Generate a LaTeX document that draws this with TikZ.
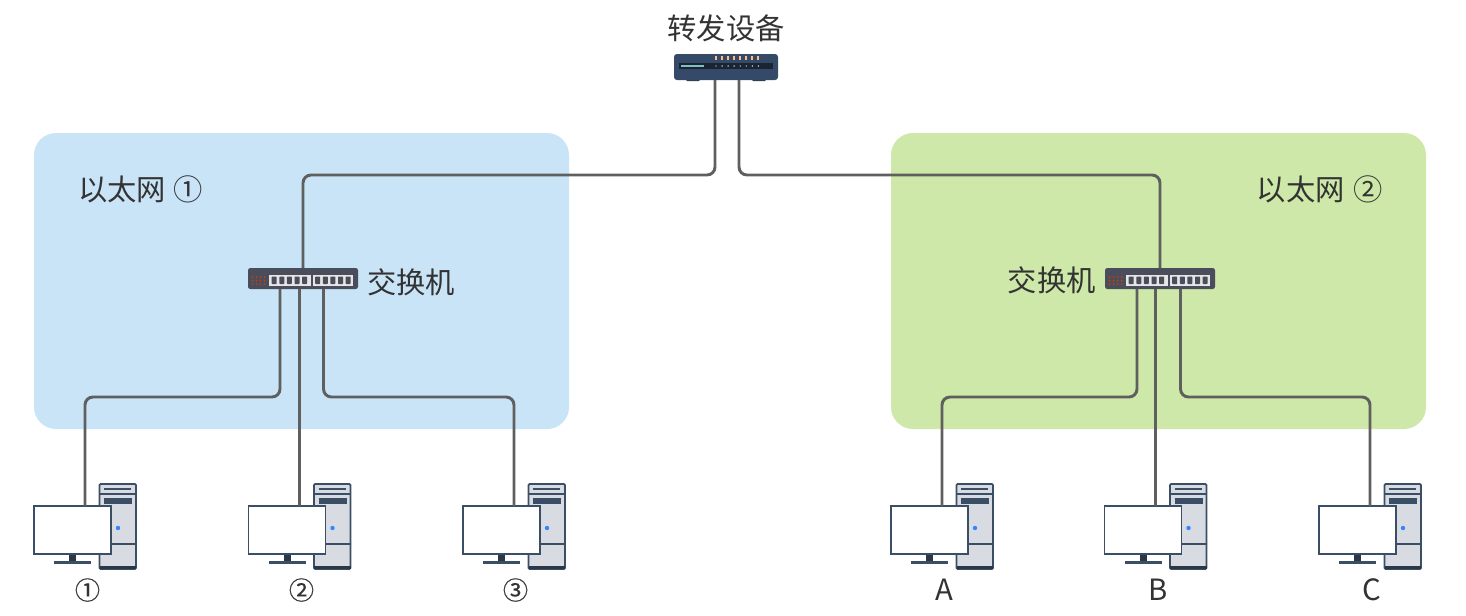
\documentclass[tikz,border=0pt]{standalone}
\usepackage{fontspec}
\setmainfont{Noto Sans CJK SC}
\newfontfamily\ringfont[FakeBold=0.5]{Noto Sans CJK SC}
\usepackage{xcolor}
\definecolor{lanblue}{HTML}{C9E3F7}
\definecolor{langreen}{HTML}{CDE8A8}
\definecolor{wiregray}{HTML}{5F5F5F}
\definecolor{navy}{HTML}{3A4F66}
\definecolor{slab}{HTML}{4A4D5C}
\definecolor{routerblue}{HTML}{344A68}
\definecolor{towergray}{HTML}{D8DCE2}
\begin{document}
\begin{tikzpicture}[x=0.03cm,y=-0.03cm,
  lan/.style={line width=0pt,rounded corners=0.66cm},
  wire/.style={draw=wiregray,line width=2.5pt,rounded corners=0.24cm},
  lbl/.style={font=\fontsize{25}{28}\selectfont,text=black!80,inner sep=0pt},
  ring/.style={font=\fontsize{21.5}{24}\ringfont,text=black!80,inner sep=0pt},
  computer/.pic={
    \filldraw[draw=navy,fill=towergray,line width=1.5pt,rounded corners=1pt] (65.5,-22) rectangle (102,63);
    \fill[navy!70!black] (65.5,60) rectangle (102,63);
    \draw[navy,line width=1pt] (65.5,-12) -- (102,-12) (65.5,38) -- (102,38);
    \draw[navy,line width=1.5pt] (70,-17) -- (97,-17);
    \fill[navy] (70,-8) rectangle (98,-2);
    \fill[blue!60!cyan!80!white] (84,22) circle (2.2);
    \fill[navy!70!black] (35,48) rectangle (42,55);
    \fill[navy] (20,55) rectangle (57,58);
    \filldraw[draw=navy,fill=white,line width=1.5pt] (0,0) rectangle (77,48);
    \coordinate (-port) at (51,0);
  },
  switchbox/.pic={
    \fill[slab,rounded corners=2pt] (0,0) rectangle (110,21);
    \fill[white!90!black] (21,7) rectangle (63,18);
    \fill[white!90!black] (65,7) rectangle (105,18);
    \foreach \i in {0,...,4} {
      \fill[slab,rounded corners=.6pt] ({23.7+7.6*\i},8.5) rectangle ++(5,7.5);
      \fill[slab,rounded corners=.6pt] ({67.2+7.6*\i},8.5) rectangle ++(5,7.5);
    }
    \foreach \i in {0,...,3} \foreach \j in {0,1,2}
      \fill[orange!60!red!80!black] ({4.5+4*\i},{9+3.5*\j}) circle (1);
    \coordinate (-up) at (55,0);
    \coordinate (-pa) at (32,21);
    \coordinate (-pb) at (51,21);
    \coordinate (-pc) at (75.5,21);
  },
  routerbox/.pic={
    \foreach \x in {12,78} \fill[navy!80!black,rounded corners=1pt] (\x,24) rectangle ++(14,3);
    \fill[routerblue,rounded corners=2.5pt] (0,0) rectangle (104,26);
    \fill[black!50!routerblue] (5,9) rectangle (99,15);
    \fill[teal!50!white] (7,11) rectangle (30,12.6);
    \foreach \i in {0,...,7} {
      \fill[orange!50!white] ({41+6.05*\i},1.5) rectangle ++(2,4.5);
      \fill[white] ({42+6.05*\i},12) circle (.7);
    }
    \coordinate (-pa) at (41,26);
    \coordinate (-pb) at (65,26);
  }]
\useasboundingbox (0,0) rectangle (1466,615);
% ---- two networks
\fill[lan,lanblue] (34,133) rectangle (569,429);
\fill[lan,langreen] (891,133) rectangle (1426,429);
% ---- devices
\pic (router) at (674,54) {routerbox};
\pic (swl) at (248,268) {switchbox};
\pic (swr) at (1105,268) {switchbox};
\coordinate (top) at (0,175);
\coordinate (bus) at (0,397);
% ---- wires
\draw[wire] (router-pa) -- (router-pa |- top) -| (swl-up);
\draw[wire] (router-pb) -- (router-pb |- top) -| (swr-up);
\foreach \sw/\ca/\cb/\cc/\xa/\xb/\xc in {swl/pca/pcb/pcc/34/248.5/463,swr/pcd/pce/pcf/891/1104.5/1319} {
  \pic (\ca) at (\xa,506) {computer};
  \pic (\cb) at (\xb,506) {computer};
  \pic (\cc) at (\xc,506) {computer};
  \draw[wire] (\sw-pa) -- (\sw-pa |- bus) -| (\ca-port);
  \draw[wire] (\cb-port |- \sw-pb) -- (\cb-port);
  \draw[wire] (\sw-pc) -- (\sw-pc |- bus) -| (\cc-port);
}
% ---- texts
\node[lbl] (routertxt) at (726,28) {转发设备};
\node[lbl,anchor=west] (lanltxt) at (78,189) {以太网\hspace{1pt} ①};
\node[lbl,anchor=east] (lanrtxt) at (1383,189) {以太网\hspace{2pt} ②};
\node[lbl,anchor=west] (swltxt) at (367,282) {交换机};
\node[lbl,anchor=east] (swrtxt) at (1096,280) {交换机};
\foreach \x/\t/\n in {87.5/①/a,301.5/②/b,515.5/③/c}
  \node[ring] (txt\n) at (\x,590) {\t};
\foreach \x/\t/\n in {944/A/d,1158/B/e,1372/C/f}
  \node[lbl] (txt\n) at (\x,590) {\t};
\end{tikzpicture}
\end{document}
